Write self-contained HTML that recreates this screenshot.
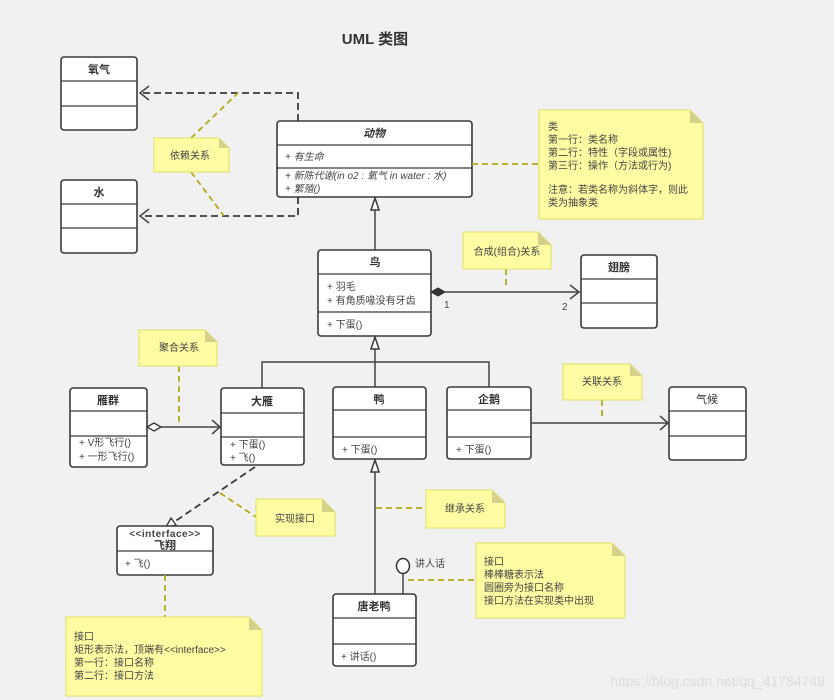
<!DOCTYPE html>
<html><head><meta charset="utf-8"><style>
html,body{margin:0;padding:0;background:#f1f1f1;}
svg{display:block;font-family:"Liberation Sans","Noto Sans CJK SC",sans-serif;}
.b{fill:#fff;stroke:#3a3a3a;stroke-width:1.6;}
.l{stroke:#3a3a3a;stroke-width:1.2;}
.t{font-size:11px;fill:#333;}
.m{font-size:10px;fill:#444;}
.n{fill:#fdfca3;stroke:#e0e060;stroke-width:1;}
.f{fill:#d4d28a;}
.nd{stroke:#b0aa1c;stroke-width:1.8;stroke-dasharray:6 4;fill:none;}
.dd{stroke:#3a3a3a;stroke-width:1.8;stroke-dasharray:7 4;fill:none;}
.ln{stroke:#444;stroke-width:1.5;fill:none;}
</style></head><body>
<svg width="834" height="700" viewBox="0 0 834 700">
<text x="375" y="44" text-anchor="middle" font-size="15" font-weight="bold" fill="#333">UML 类图</text>

<!-- 氧气 -->
<rect class="b" x="61" y="57" width="76" height="73" rx="3"/>
<line class="l" x1="61" y1="81" x2="137" y2="81"/><line class="l" x1="61" y1="106" x2="137" y2="106"/>
<text class="t" x="99" y="73" text-anchor="middle" font-weight="bold">氧气</text>
<!-- 水 -->
<rect class="b" x="61" y="180" width="76" height="73" rx="3"/>
<line class="l" x1="61" y1="204" x2="137" y2="204"/><line class="l" x1="61" y1="228" x2="137" y2="228"/>
<text class="t" x="99" y="196" text-anchor="middle" font-weight="bold">水</text>

<!-- dependency -->
<path class="dd" d="M298,121 V93 H140"/><path class="ln" d="M149,86 L140,93 L149,100"/>
<path class="dd" d="M298,197 V216 H140"/><path class="ln" d="M149,209 L140,216 L149,223"/>

<!-- 动物 -->
<rect class="b" x="277" y="121" width="195" height="76" rx="3"/>
<line class="l" x1="277" y1="145" x2="472" y2="145"/><line class="l" x1="277" y1="168" x2="472" y2="168"/>
<text class="t" x="374" y="137" text-anchor="middle" font-style="italic" font-weight="bold">动物</text>
<text class="m" x="285" y="160" font-style="italic">+ 有生命</text>
<text class="m" x="285" y="179" font-style="italic">+ 新陈代谢(in o2 : 氧气 in water : 水)</text>
<text class="m" x="285" y="192" font-style="italic">+ 繁殖()</text>

<!-- 依赖 note -->
<path class="nd" d="M191,138 L238,93 M191,172 L224,216"/>
<path class="n" d="M154,138 H219 L229,148 V172 H154 Z"/><path class="f" d="M219,138 L229,148 H219 Z"/>
<text class="m" x="190" y="159" text-anchor="middle">依赖关系</text>

<!-- 类 note -->
<path class="nd" d="M472,164 H539"/>
<path class="n" d="M539,110 H690 L703,123 V219 H539 Z"/><path class="f" d="M690,110 L703,123 H690 Z"/>
<g class="m"><text x="548" y="130">类</text><text x="548" y="143">第一行：类名称</text><text x="548" y="156">第二行：特性（字段或属性)</text><text x="548" y="169">第三行：操作（方法或行为)</text><text x="548" y="193">注意：若类名称为斜体字，则此</text><text x="548" y="206">类为抽象类</text></g>

<!-- 鸟 -->
<line class="ln" x1="375" y1="210" x2="375" y2="250"/>
<path d="M375,198 L371,210 H379 Z" fill="#fff" stroke="#3a3a3a" stroke-width="1.5"/>
<rect class="b" x="318" y="250" width="113" height="86" rx="3"/>
<line class="l" x1="318" y1="274" x2="431" y2="274"/><line class="l" x1="318" y1="312" x2="431" y2="312"/>
<text class="t" x="375" y="266" text-anchor="middle" font-weight="bold">鸟</text>
<text class="m" x="327" y="290">+ 羽毛</text><text class="m" x="327" y="304">+ 有角质喙没有牙齿</text>
<text class="m" x="327" y="328">+ 下蛋()</text>

<!-- composition -->
<line class="ln" x1="445" y1="292" x2="579" y2="292"/>
<path d="M431,292 L438,288 L445,292 L438,296 Z" fill="#333" stroke="#333"/>
<path class="ln" d="M570,285 L579,292 L570,299"/>
<text class="m" x="444" y="308" fill="#666">1</text><text class="m" x="562" y="310" fill="#666">2</text>
<path class="nd" d="M506,269 V289"/>
<path class="n" d="M463,232 H538 L551,245 V269 H463 Z"/><path class="f" d="M538,232 L551,245 H538 Z"/>
<text class="m" x="507" y="255" text-anchor="middle">合成(组合)关系</text>

<!-- 翅膀 -->
<rect class="b" x="581" y="255" width="76" height="73" rx="3"/>
<line class="l" x1="581" y1="279" x2="657" y2="279"/><line class="l" x1="581" y1="303" x2="657" y2="303"/>
<text class="t" x="619" y="271" text-anchor="middle" font-weight="bold">翅膀</text>

<!-- inheritance tree -->
<path d="M375,337 L371,349 H379 Z" fill="#fff" stroke="#3a3a3a" stroke-width="1.5"/>
<path class="ln" d="M375,349 V387 M262,388 V362 H489 V387"/>

<!-- 雁群 -->
<rect class="b" x="70" y="388" width="77" height="79" rx="3"/>
<line class="l" x1="70" y1="411" x2="147" y2="411"/><line class="l" x1="70" y1="436" x2="147" y2="436"/>
<text class="t" x="108" y="404" text-anchor="middle" font-weight="bold">雁群</text>
<text class="m" x="79" y="446">+ V形飞行()</text><text class="m" x="79" y="460">+ 一形飞行()</text>
<!-- aggregation -->
<line class="ln" x1="161" y1="427" x2="220" y2="427"/>
<path d="M147,427 L154,423 L161,427 L154,431 Z" fill="#fff" stroke="#333" stroke-width="1.3"/>
<path class="ln" d="M212,420 L220,427 L212,434"/>
<path class="nd" d="M179,366 V425"/>
<path class="n" d="M139,330 H205 L217,342 V366 H139 Z"/><path class="f" d="M205,330 L217,342 H205 Z"/>
<text class="m" x="179" y="351" text-anchor="middle">聚合关系</text>

<!-- 大雁 -->
<rect class="b" x="221" y="388" width="83" height="77" rx="3"/>
<line class="l" x1="221" y1="413" x2="304" y2="413"/><line class="l" x1="221" y1="437" x2="304" y2="437"/>
<text class="t" x="262" y="405" text-anchor="middle" font-weight="bold">大雁</text>
<text class="m" x="230" y="448">+ 下蛋()</text><text class="m" x="230" y="461">+ 飞()</text>

<!-- 鸭 -->
<rect class="b" x="333" y="387" width="93" height="72" rx="3"/>
<line class="l" x1="333" y1="410" x2="426" y2="410"/><line class="l" x1="333" y1="437" x2="426" y2="437"/>
<text class="t" x="379" y="403" text-anchor="middle" font-weight="bold">鸭</text>
<text class="m" x="342" y="453">+ 下蛋()</text>

<!-- 企鹅 -->
<rect class="b" x="447" y="387" width="84" height="72" rx="3"/>
<line class="l" x1="447" y1="410" x2="531" y2="410"/><line class="l" x1="447" y1="437" x2="531" y2="437"/>
<text class="t" x="489" y="403" text-anchor="middle" font-weight="bold">企鹅</text>
<text class="m" x="456" y="453">+ 下蛋()</text>

<!-- association -->
<line class="ln" x1="531" y1="423" x2="668" y2="423"/>
<path class="ln" d="M660,416 L668,423 L660,430"/>
<path class="nd" d="M602,400 V418"/>
<path class="n" d="M563,364 H630 L642,376 V400 H563 Z"/><path class="f" d="M630,364 L642,376 H630 Z"/>
<text class="m" x="602" y="385" text-anchor="middle">关联关系</text>

<!-- 气候 -->
<rect class="b" x="669" y="387" width="77" height="73" rx="3"/>
<line class="l" x1="669" y1="411" x2="746" y2="411"/><line class="l" x1="669" y1="436" x2="746" y2="436"/>
<text class="t" x="707" y="403" text-anchor="middle">气候</text>

<!-- realization -->
<path class="dd" d="M255,467 L174,522"/>
<path d="M166,527 L176,525 L171,518 Z" fill="#fff" stroke="#333" stroke-width="1.3"/>
<path class="nd" d="M220,493 L256,517"/>
<path class="n" d="M256,499 H322 L335,512 V536 H256 Z"/><path class="f" d="M322,499 L335,512 H322 Z"/>
<text class="m" x="295" y="522" text-anchor="middle">实现接口</text>

<!-- 飞翔 -->
<rect class="b" x="117" y="526" width="96" height="49" rx="3"/>
<line class="l" x1="117" y1="551" x2="213" y2="551"/>
<text class="m" x="165" y="537" text-anchor="middle" font-weight="bold" letter-spacing="0.5">&lt;&lt;interface&gt;&gt;</text>
<text class="t" x="165" y="549" text-anchor="middle" font-weight="bold">飞翔</text>
<text class="m" x="125" y="567">+ 飞()</text>
<path class="nd" d="M165,575 V617"/>
<path class="n" d="M66,617 H249 L262,630 V696 H66 Z"/><path class="f" d="M249,617 L262,630 H249 Z"/>
<g class="m"><text x="74" y="640">接口</text><text x="74" y="653">矩形表示法，顶端有&lt;&lt;interface&gt;&gt;</text><text x="74" y="666">第一行：接口名称</text><text x="74" y="679">第二行：接口方法</text></g>

<!-- 唐老鸭 inheritance -->
<path d="M375,460 L371,472 H379 Z" fill="#fff" stroke="#3a3a3a" stroke-width="1.5"/>
<line class="ln" x1="375" y1="472" x2="375" y2="594"/>
<path class="nd" d="M376,508 H426"/>
<path class="n" d="M426,490 H492 L505,503 V528 H426 Z"/><path class="f" d="M492,490 L505,503 H492 Z"/>
<text class="m" x="465" y="512" text-anchor="middle">继承关系</text>

<!-- lollipop -->
<line class="ln" x1="403" y1="573" x2="403" y2="594"/>
<ellipse cx="403" cy="566" rx="6.5" ry="7.5" fill="#fff" stroke="#333" stroke-width="1.5"/>
<text class="m" x="415" y="567">讲人话</text>
<path class="nd" d="M408,580 H476"/>
<path class="n" d="M476,543 H612 L625,556 V618 H476 Z"/><path class="f" d="M612,543 L625,556 H612 Z"/>
<g class="m"><text x="484" y="565">接口</text><text x="484" y="578">棒棒糖表示法</text><text x="484" y="591">圆圈旁为接口名称</text><text x="484" y="604">接口方法在实现类中出现</text></g>

<!-- 唐老鸭 -->
<rect class="b" x="333" y="594" width="83" height="72" rx="3"/>
<line class="l" x1="333" y1="618" x2="416" y2="618"/><line class="l" x1="333" y1="644" x2="416" y2="644"/>
<text class="t" x="374" y="610" text-anchor="middle" font-weight="bold">唐老鸭</text>
<text class="m" x="341" y="660">+ 讲话()</text>

<text x="825" y="686" text-anchor="end" font-size="14" fill="#dcdcdc">https://blog.csdn.net/qq_41784749</text>
</svg>
</body></html>
